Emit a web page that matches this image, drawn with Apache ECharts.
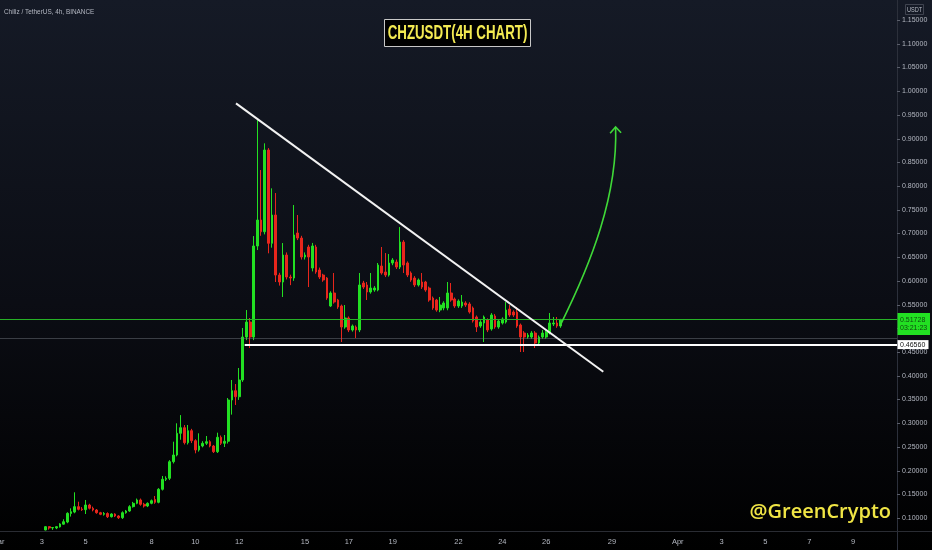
<!DOCTYPE html>
<html>
<head>
<meta charset="utf-8">
<script src="https://cdn.jsdelivr.net/npm/echarts@6/dist/echarts.min.js"></script>
<style>
html,body{margin:0;padding:0;background:#000;}
#c{width:932px;height:550px;background:linear-gradient(#151a26 0%,#0b0d14 55%,#000000 100%);}
</style>
</head>
<body>
<div id="c"></div>
<script>
// ---- data (4h candles, CHZ/USDT, March 2021) ----
const candleStartHour = 52;   // hours after Mar 1 00:00 -> Mar 3 04:00
const candleStepHours = 4;
const opens = [
.0747,.0817,.0790,.0790,.0812,.0870,.0915,.1095,.1125,.1239,
.1190,.1175,.1274,.1205,.1169,.1112,.1078,.1095,.1027,.1084,
.1042,.1006,.1112,.1148,.1239,.1310,.1380,.1289,.1253,.1310,
.1390,.1331,.1605,.1816,.1837,.2187,.2328,.2786,.2904,.2588,
.2841,.2630,.2434,.2518,.2575,.2609,.2518,.2398,.2702,.2575,
.2619,.3488,.3684,.3557,.3910,.4816,.5132,.4816,.6735,.7283,
.7036,.8759,.6792,.7389,.6123,.5976,.6545,.6081,.6060,.7009,
.6903,.6503,.6714,.6271,.6714,.6229,.6123,.6060,.5470,.5744,
.5596,.5470,.5027,.5217,.4964,.5027,.4964,.5955,.5913,.5765,
.5807,.5807,.6313,.6187,.6123,.6377,.6398,.6292,.6819,.6377,
.6166,.6060,.5913,.5976,.5976,.5849,.5638,.5596,.5385,.5428,
.5428,.5744,.5617,.5470,.5470,.5533,.5512,.5428,.5238,.5048,
.5111,.5175,.4985,.5259,.5027,.5111,.5132,.5406,.5343,.5343,
.5069,.4901,.4816,.4816,.4901,.4690,.4816,.4816,.4901,.5090,
.5111,.5048];
const closes = [
.0817,.0790,.0800,.0817,.0874,.0922,.1099,.1133,.1239,.1183,
.1175,.1274,.1205,.1169,.1112,.1078,.1095,.1027,.1084,.1042,
.1006,.1112,.1148,.1239,.1310,.1380,.1289,.1253,.1310,.1365,
.1331,.1605,.1816,.1837,.2187,.2328,.2786,.2904,.2588,.2841,
.2630,.2434,.2518,.2575,.2609,.2518,.2398,.2702,.2575,.2619,
.3488,.3684,.3557,.3910,.4816,.5132,.4816,.6735,.7283,.7036,
.8759,.6792,.7389,.6123,.5976,.6545,.6081,.6060,.6967,.6903,
.6503,.6545,.6503,.6735,.6187,.6081,.6018,.5638,.5744,.5554,
.5449,.5027,.5217,.4964,.5048,.4964,.5913,.5870,.5765,.5849,
.5849,.6334,.6166,.6123,.6377,.6440,.6292,.6819,.6334,.6123,
.6018,.5913,.6018,.5870,.5807,.5596,.5428,.5385,.5491,.5533,
.5744,.5596,.5470,.5575,.5554,.5491,.5343,.5153,.5027,.5132,
.5238,.4964,.5280,.5027,.5153,.5196,.5385,.5280,.5280,.5048,
.4816,.4816,.4858,.4901,.4690,.4816,.4901,.4922,.5111,.5111,
.5048,.5173];
const lows = [
.0740,.0755,.0750,.0765,.0800,.0860,.0890,.1030,.1100,.1160,
.1150,.1084,.1180,.1140,.1090,.1060,.1050,.1000,.1010,.1020,
.0980,.0980,.1090,.1130,.1220,.1290,.1260,.1220,.1230,.1290,
.1300,.1310,.1580,.1780,.1800,.2150,.2300,.2650,.2550,.2550,
.2580,.2364,.2400,.2490,.2540,.2490,.2370,.2370,.2540,.2497,
.2570,.3180,.3382,.3490,.3870,.4750,.4584,.4750,.6650,.6950,
.6980,.6581,.6700,.5976,.5900,.5660,.6030,.5910,.6000,.6860,
.6450,.6450,.5870,.6200,.6150,.6040,.5980,.5600,.5450,.5520,
.5410,.4711,.4990,.4920,.4930,.4795,.4920,.5830,.5596,.5730,
.5770,.5780,.6130,.6080,.6090,.6330,.6250,.6250,.6166,.6080,
.5980,.5870,.5880,.5830,.5770,.5560,.5390,.5350,.5340,.5380,
.5380,.5560,.5430,.5430,.5430,.5450,.5310,.5120,.4922,.5010,
.4711,.4920,.4950,.4990,.4990,.5080,.5100,.5240,.5240,.5010,
.4500,.4500,.4780,.4780,.4584,.4650,.4780,.4780,.4870,.5048,
.5010,.5010];
const highs = [
.0830,.0825,.0810,.0830,.0890,.0973,.1120,.1204,.1542,.1344,
.1230,.1380,.1300,.1240,.1190,.1130,.1125,.1120,.1100,.1100,
.1060,.1140,.1170,.1270,.1340,.1410,.1410,.1320,.1330,.1390,
.1464,.1630,.1886,.1880,.2220,.2609,.2997,.3170,.2960,.2961,
.2880,.2660,.2786,.2620,.2729,.2640,.2540,.2799,.2740,.2750,
.3530,.3910,.3825,.4163,.5006,.5385,.5217,.6945,.9433,.8337,
.8900,.8800,.7951,.7852,.6170,.6798,.6600,.6130,.7599,.7389,
.6950,.6600,.6760,.6800,.6760,.6280,.6150,.6080,.5780,.6166,
.5620,.5500,.5491,.5250,.5080,.5060,.6166,.6000,.5976,.6166,
.5890,.6377,.6714,.6587,.6566,.6480,.6450,.7135,.6860,.6410,
.6200,.6100,.6050,.6166,.6000,.5880,.5670,.5620,.5660,.5570,
.5976,.5955,.5650,.5610,.5702,.5570,.5550,.5460,.5270,.5170,
.5270,.5210,.5320,.5300,.5190,.5230,.5554,.5491,.5380,.5449,
.5100,.4940,.4900,.4940,.4940,.4850,.4964,.4960,.5322,.5238,
.5238,.5200];

const xTickHours  = [0,48,96,168,216,264,336,384,432,504,552,600,672,744,792,840,888,936];
const xTickLabels = ['Mar','3','5','8','10','12','15','17','19','22','24','26','29','Apr','3','5','7','9'];
const yTickValues = [0.10,0.15,0.20,0.25,0.30,0.35,0.40,0.45,0.50,0.55,0.60,0.65,0.70,0.75,0.80,0.85,0.90,0.95,1.00,1.05,1.10,1.15];

const currentPrice = 0.51728;
const countdown = '03:21:23';
const supportPrice = 0.46560;
const supportStartHour = 270;
const prevLinePrice = 0.4826;
const trendStart = [260.5, 0.9743];
const trendEnd = [662.5, 0.4085];
const arrowPath = [[615, 0.5048], [650, 0.6398], [678.4, 0.7810], [676, 0.9244]];
const arrowWings = [[670, 0.9111], [682, 0.9124]];

const titleText = 'CHZUSDT(4H CHART)';
const symbolText = 'Chiliz / TetherUS, 4h, BINANCE';
const watermark = '@GreenCrypto';

// ---- build ----
const times = opens.map((_, i) => candleStartHour + i * candleStepHours);
const candles = times.map((t, i) => [t, opens[i], closes[i], lows[i], highs[i]]);

const UP = '#22e022', DOWN = '#e8261c';
const SANS = '"Liberation Sans", Arial, sans-serif';

const chart = echarts.init(document.getElementById('c'), null, {renderer: 'canvas'});

const option = {
  backgroundColor: 'transparent',
  animation: false,
  grid: {left: -2, right: 35, top: 0, bottom: 19, containLabel: false, outerBoundsMode: 'none'},
  xAxis: {
    type: 'value', min: 0, max: 984,
    axisLine: {show: false}, axisTick: {show: false}, splitLine: {show: false},
    axisLabel: {
      customValues: xTickHours,
      formatter: v => xTickLabels[xTickHours.indexOf(v)] || '',
      color: '#b4b8c2', fontSize: 7.5, fontFamily: SANS, margin: 7
    }
  },
  yAxis: {
    type: 'value', position: 'right', min: 0.0726, max: 1.1922, scale: true,
    axisLine: {show: false}, splitLine: {show: false},
    axisTick: {show: false},
    axisLabel: {
      customValues: yTickValues,
      formatter: v => v.toFixed(5),
      color: '#b4b8c2', fontSize: 7, fontFamily: SANS, margin: 5
    }
  },
  series: [
    {
      type: 'candlestick',
      data: candles,
      barWidth: 2.2,
      clip: true,
      itemStyle: {color: UP, color0: DOWN, borderColor: UP, borderColor0: DOWN, borderWidth: 1},
      markLine: {
        silent: true, symbol: ['none', 'none'], animation: false,
        label: {show: false},
        data: [
          {yAxis: prevLinePrice, lineStyle: {color: 'rgba(120,124,132,0.45)', width: 1, type: 'solid'}},
          {yAxis: currentPrice, lineStyle: {color: '#26b026', width: 1, type: 'solid'}},
          [{coord: [supportStartHour, supportPrice], lineStyle: {color: '#ffffff', width: 2, type: 'solid'}},
           {coord: [984, supportPrice]}],
          [{coord: trendStart, lineStyle: {color: '#f2f2f2', width: 2, type: 'solid'}},
           {coord: trendEnd}]
        ]
      }
    },
    {
      type: 'custom',
      silent: true,
      clip: false,
      z: 10,
      data: [arrowPath[0]],
      renderItem: function (params, api) {
        const p = arrowPath.map(a => api.coord(a));
        const w = arrowWings.map(a => api.coord(a));
        const st = {stroke: '#3fd838', lineWidth: 1.6, fill: null};
        return {
          type: 'group',
          children: [
            {type: 'bezierCurve', shape: {x1: p[0][0], y1: p[0][1], cpx1: p[1][0], cpy1: p[1][1],
              cpx2: p[2][0], cpy2: p[2][1], x2: p[3][0], y2: p[3][1]}, style: st},
            {type: 'polyline', shape: {points: [w[0], p[3], w[1]]}, style: st}
          ]
        };
      }
    }
  ]
};
chart.setOption(option);

const yCur = chart.convertToPixel({yAxisIndex: 0}, currentPrice);
const ySup = chart.convertToPixel({yAxisIndex: 0}, supportPrice);
const tickMarks = yTickValues.map(v => {
  const y = Math.round(chart.convertToPixel({yAxisIndex: 0}, v)) + 0.5;
  return {type: 'line', silent: true, z: 2, shape: {x1: 897, y1: y, x2: 900, y2: y}, style: {stroke: '#5a5e6a', lineWidth: 1}};
});

chart.setOption({
  graphic: [
    {type: 'line', silent: true, z: 1, shape: {x1: 897.5, y1: 0, x2: 897.5, y2: 550}, style: {stroke: '#2c303b', lineWidth: 1}},
    {type: 'line', silent: true, z: 1, shape: {x1: 0, y1: 531.5, x2: 932, y2: 531.5}, style: {stroke: '#2a2c33', lineWidth: 1}},
    {type: 'group', silent: true, x: 4, y: 11.5, scaleX: 0.8, scaleY: 1,
      children: [{type: 'text', silent: true, x: 0, y: 0,
        style: {text: symbolText, fill: '#b4b8c2', fontSize: 8, fontFamily: SANS, verticalAlign: 'middle'}}]},
    {type: 'rect', silent: true, shape: {x: 905.5, y: 4.5, width: 18, height: 10}, style: {fill: 'transparent', stroke: '#4a4e5a', lineWidth: 0.8}},
    {type: 'group', silent: true, x: 914.5, y: 10, scaleX: 0.8, scaleY: 1,
      children: [{type: 'text', silent: true, x: 0, y: 0,
        style: {text: 'USDT', fill: '#b4b8c2', fontSize: 7, fontFamily: SANS, align: 'center', verticalAlign: 'middle'}}]},
    {type: 'rect', silent: true, z: 5, shape: {x: 384.5, y: 19.5, width: 146, height: 27}, style: {fill: '#000000', stroke: '#c8c8c8', lineWidth: 1}},
    {type: 'group', silent: true, z: 6, x: 457.5, y: 33.5, scaleX: 0.665, scaleY: 1,
      children: [
        {type: 'text', silent: true, z: 6, x: 0, y: 0,
          style: {text: titleText, fill: '#f3ea52', fontSize: 20, fontWeight: 'bold', fontFamily: SANS, align: 'center', verticalAlign: 'middle'}}
      ]},
    {type: 'text', silent: true, z: 6, x: 891, y: 512,
      style: {text: watermark, fill: '#f0e545', fontSize: 20, fontWeight: 600, fontFamily: '"Open Sans", "Noto Sans", sans-serif', align: 'right', verticalAlign: 'middle'}},
    {type: 'rect', silent: true, z: 20, shape: {x: 897.5, y: yCur - 7, width: 32.5, height: 22}, style: {fill: '#22e022'}},
    {type: 'text', silent: true, z: 21, x: 900, y: yCur,
      style: {text: currentPrice.toFixed(5), fill: '#0f4a0f', fontSize: 7, fontFamily: SANS, verticalAlign: 'middle'}},
    {type: 'text', silent: true, z: 21, x: 900, y: yCur + 7.5,
      style: {text: countdown, fill: '#0f4a0f', fontSize: 7, fontFamily: SANS, verticalAlign: 'middle'}},
    {type: 'rect', silent: true, z: 20, shape: {x: 897.5, y: ySup - 4.5, width: 31, height: 9}, style: {fill: '#ffffff'}},
    {type: 'text', silent: true, z: 21, x: 900, y: ySup,
      style: {text: supportPrice.toFixed(5), fill: '#111111', fontSize: 7, fontFamily: SANS, verticalAlign: 'middle'}}
  ].concat(tickMarks)
});
</script>
</body>
</html>
